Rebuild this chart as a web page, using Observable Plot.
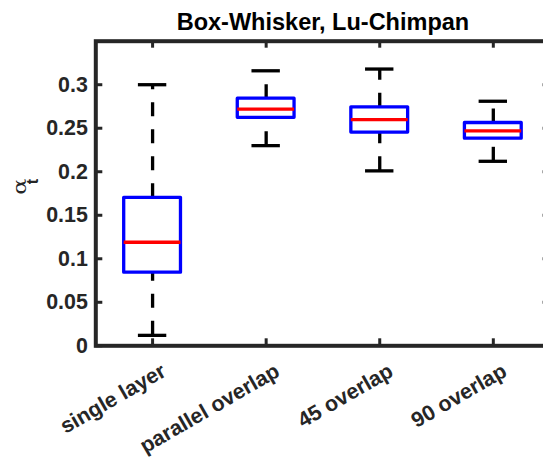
<!DOCTYPE html>
<html><head><meta charset="utf-8">
<script src="https://cdn.jsdelivr.net/npm/d3@7"></script>
<script src="https://cdn.jsdelivr.net/npm/@observablehq/plot@0.6"></script>
<style>html,body{margin:0;padding:0;overflow:hidden;background:#fff;width:543px;height:458px}
#chart svg{max-width:none !important;height:458px !important}</style>
</head><body><div id="chart"></div>
<script>
const categories = ["single layer", "parallel overlap", "45 overlap", "90 overlap"];
const lowerWhisker = [0.012, 0.230, 0.201, 0.212];
const q1 = [0.084, 0.262, 0.245, 0.238];
const median = [0.119, 0.272, 0.260, 0.247];
const q3 = [0.170, 0.284, 0.274, 0.256];
const upperWhisker = [0.300, 0.316, 0.318, 0.281];
const yTicks = [0, 0.05, 0.1, 0.15, 0.2, 0.25, 0.3];
const xTicks = [1, 2, 3, 4];
const titleText = "Box-Whisker, Lu-Chimpan";
const yLabelMain = "α";
const yLabelSub = "t";

const boxes = categories.map((c, i) => ({cat: c, pos: xTicks[i], lo: lowerWhisker[i], q1: q1[i], med: median[i], q3: q3[i], hi: upperWhisker[i]}));

const W = 560, H = 458, mL = 95.3, mR = 10.4, mT = 40.7, mB = 112.7;
const fw = W - mL - mR, fh = H - mT - mB;
const tickLen = 7;
const axisColor = "#262626";
const lw = 3.3;

const chart = Plot.plot({
  width: W, height: H, marginLeft: mL, marginRight: mR, marginTop: mT, marginBottom: mB,
  x: {type: "linear", domain: [0.5, 4.5], axis: null},
  y: {domain: [0, 0.35], axis: null},
  style: {fontFamily: "'Liberation Sans', Arial, sans-serif", fontSize: "21.4px", fontWeight: "bold", background: "#fff", color: axisColor, maxWidth: "none"},
  marks: [
    Plot.ruleX(boxes, {x: "pos", y1: "q3", y2: "hi", stroke: "#000", strokeWidth: lw, strokeDasharray: "14,13"}),
    Plot.ruleX(boxes, {x: "pos", y1: "lo", y2: "q1", stroke: "#000", strokeWidth: lw, strokeDasharray: "14,13"}),
    Plot.ruleY(boxes, {y: "hi", x1: d => d.pos - 0.125, x2: d => d.pos + 0.125, stroke: "#000", strokeWidth: lw}),
    Plot.ruleY(boxes, {y: "lo", x1: d => d.pos - 0.125, x2: d => d.pos + 0.125, stroke: "#000", strokeWidth: lw}),
    Plot.rect(boxes, {x1: d => d.pos - 0.25, x2: d => d.pos + 0.25, y1: "q1", y2: "q3", fill: "none", stroke: "#0000ff", strokeWidth: lw, strokeLinejoin: "round"}),
    Plot.ruleY(boxes, {y: "med", x1: d => d.pos - 0.25, x2: d => d.pos + 0.25, stroke: "#ff0000", strokeWidth: lw}),
    Plot.ruleY(yTicks, {y: d => d, insetRight: fw - tickLen, stroke: axisColor, strokeWidth: 3}),
    Plot.ruleY(yTicks, {y: d => d, insetLeft: fw - tickLen, stroke: axisColor, strokeWidth: 3}),
    Plot.ruleX(xTicks, {x: d => d, insetTop: fh - tickLen, stroke: axisColor, strokeWidth: 3}),
    Plot.ruleX(xTicks, {x: d => d, insetBottom: fh - tickLen, stroke: axisColor, strokeWidth: 3}),
    Plot.frame({stroke: axisColor, strokeWidth: 4}),
    Plot.axisY({ticks: yTicks, tickSize: 0, tickPadding: 8, label: null, tickFormat: d => String(+d.toFixed(2)), fill: axisColor}),
    Plot.text(categories, {x: (d, i) => xTicks[i], frameAnchor: "bottom", text: d => d, rotate: -30, textAnchor: "end", lineAnchor: "middle", dx: 11.5, dy: 23.5, fill: axisColor}),
    Plot.text([titleText], {frameAnchor: "top", text: d => d, lineAnchor: "bottom", dy: -11.3, fontSize: 23.5, fill: "#000"})
  ]
});
chart.style.maxWidth = "none";
chart.style.height = H + "px";
document.getElementById("chart").appendChild(chart);

// y-axis label: alpha with subscript t (rotated)
const svg = d3.select(chart);
svg.append("text")
  .attr("transform", "translate(18.9,186.7) rotate(-90) scale(1.25,1)")
  .attr("text-anchor", "middle").attr("dominant-baseline", "central")
  .attr("font-family", "'DejaVu Serif', serif").attr("font-weight", "normal").attr("font-size", 19)
  .attr("fill", axisColor).text(yLabelMain);
svg.append("text")
  .attr("transform", "translate(32,181.5) rotate(-90)")
  .attr("text-anchor", "middle").attr("dominant-baseline", "central")
  .attr("font-family", "'Liberation Sans', Arial, sans-serif").attr("font-weight", "bold").attr("font-size", 16)
  .attr("fill", axisColor).text(yLabelSub);
</script>
</body></html>
